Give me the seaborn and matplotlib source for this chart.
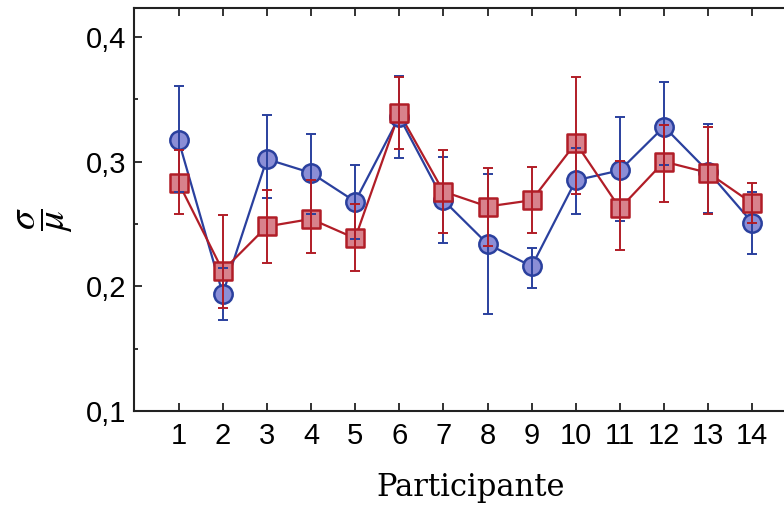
import numpy as np
import pandas as pd
import matplotlib
matplotlib.use("Agg")
import matplotlib.pyplot as plt
import seaborn as sns
from matplotlib.ticker import FixedLocator, FuncFormatter

# Coefficient of variation (sigma/mu) per participant, two conditions
participants = list(range(1, 15))

cv_blue = [0.317, 0.194, 0.302, 0.291, 0.268, 0.336, 0.269, 0.234, 0.216, 0.285, 0.293, 0.328, 0.292, 0.251]
err_blue_lo = [0.041, 0.021, 0.031, 0.033, 0.030, 0.033, 0.034, 0.056, 0.017, 0.027, 0.041, 0.031, 0.033, 0.025]
err_blue_hi = [0.044, 0.021, 0.035, 0.031, 0.029, 0.033, 0.035, 0.056, 0.015, 0.026, 0.043, 0.036, 0.038, 0.025]

cv_red = [0.283, 0.2125, 0.248, 0.254, 0.2385, 0.339, 0.276, 0.264, 0.269, 0.315, 0.2625, 0.300, 0.291, 0.2665]
err_red_lo = [0.025, 0.030, 0.029, 0.027, 0.0265, 0.029, 0.033, 0.032, 0.026, 0.041, 0.033, 0.032, 0.033, 0.016]
err_red_hi = [0.026, 0.045, 0.029, 0.031, 0.0275, 0.029, 0.033, 0.031, 0.027, 0.053, 0.038, 0.029, 0.037, 0.016]

y_ticks = [0.1, 0.2, 0.3, 0.4]
y_minor = [0.15, 0.25, 0.35]

blue_line, blue_fill = "#2a409e", "#8b8ed6"
red_line, red_fill = "#b11d27", "#d8828c"

df = pd.DataFrame({
    "Participante": participants * 2,
    "cv": cv_blue + cv_red,
    "serie": ["A"] * 14 + ["B"] * 14,
})

sns.set_theme(style="ticks")
plt.rcParams["font.family"] = ["Liberation Sans", "DejaVu Sans"]
plt.rcParams["mathtext.fontset"] = "stix"
plt.rcParams["text.color"] = "black"
plt.rcParams["axes.labelcolor"] = "black"

fig = plt.figure(figsize=(7.84, 5.14), dpi=100)
ax = fig.add_axes([0.1715, 0.2004, 0.8444, 0.7840])

# connecting lines
sns.lineplot(data=df, x="Participante", y="cv", hue="serie",
             palette={"A": blue_line, "B": red_line}, linewidth=1.6,
             legend=False, ax=ax, zorder=2)

# markers
sns.scatterplot(data=df[df.serie == "A"], x="Participante", y="cv",
                marker="o", s=175, color=blue_fill, edgecolor=blue_line,
                linewidth=1.8, legend=False, ax=ax, zorder=3)
sns.scatterplot(data=df[df.serie == "B"], x="Participante", y="cv",
                marker="s", s=165, color=red_fill, edgecolor=red_line,
                linewidth=1.8, legend=False, ax=ax, zorder=3.1)

# error bars
ax.errorbar(participants, cv_blue, yerr=[err_blue_lo, err_blue_hi], fmt="none",
            ecolor=blue_line, elinewidth=1.4, capsize=3.5, capthick=1.4, zorder=4)
ax.errorbar(participants, cv_red, yerr=[err_red_lo, err_red_hi], fmt="none",
            ecolor=red_line, elinewidth=1.4, capsize=3.5, capthick=1.4, zorder=4.1)

ax.set_xlim(0, 15)
ax.set_ylim(0.1, 0.4232)
ax.set_xticks(participants)
ax.set_xticklabels([str(p) for p in participants])
ax.yaxis.set_major_locator(FixedLocator(y_ticks))
ax.yaxis.set_minor_locator(FixedLocator(y_minor))
ax.yaxis.set_major_formatter(FuncFormatter(lambda v, _: f"{v:.1f}".replace(".", ",")))

for s in ax.spines.values():
    s.set_visible(True)
    s.set_linewidth(1.5)
    s.set_color("#222222")

ax.tick_params(axis="both", which="major", direction="in", length=6, width=1.3,
               labelsize=21, color="#222222", labelcolor="black",
               top=True, right=True)
ax.tick_params(axis="y", which="minor", direction="in", length=3, width=1.3,
               color="#222222", right=True)
ax.tick_params(axis="x", which="major", pad=8)
ax.tick_params(axis="y", which="major", pad=6)

ax.set_xlabel("Participante", fontsize=22, family="DejaVu Serif", color="black")
ax.xaxis.set_label_coords(0.5076, -0.152)
ax.set_ylabel(r"$\dfrac{\sigma}{\mu}$", fontsize=28, color="black")
ax.yaxis.set_label_coords(-0.090, 0.474)

fig.savefig("out.png", dpi=100)
